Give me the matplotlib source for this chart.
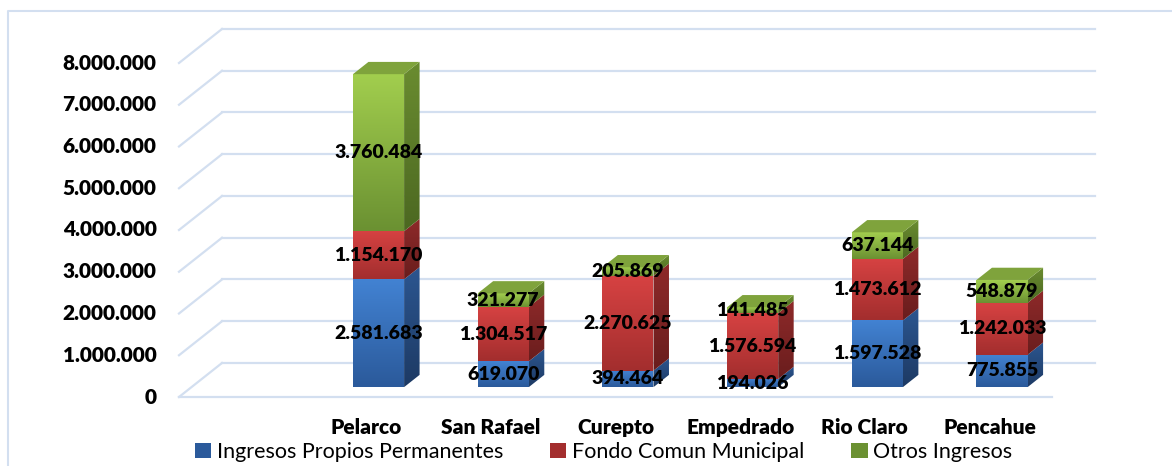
import matplotlib
matplotlib.use('Agg')
import matplotlib.pyplot as plt
import numpy as np
from matplotlib.patches import Polygon, Patch
from matplotlib.colors import LinearSegmentedColormap

plt.rcParams['font.family'] = ['Lato', 'DejaVu Sans']

# Datos (M$)
comunas = ['Pelarco', 'San Rafael', 'Curepto', 'Empedrado', 'Rio Claro', 'Pencahue']
propios = [2581683, 619070, 394464, 194026, 1597528, 775855]
fondo = [1154170, 1304517, 2270625, 1576594, 1473612, 1242033]
otros = [3760484, 321277, 205869, 141485, 637144, 548879]
series = ['Ingresos Propios Permanentes', 'Fondo Comun Municipal', 'Otros Ingresos']
yticks = [0, 1000000, 2000000, 3000000, 4000000, 5000000, 6000000, 7000000, 8000000]

# colores: (frente arriba, frente abajo, lado arriba, lado abajo)
colores = [('#4282d2', '#2b5a9b', '#2c5690', '#1d3a64'),
           ('#d64242', '#a32e2e', '#8e2a2a', '#6a1d1d'),
           ('#a2ce4e', '#6b9132', '#6a8c30', '#4c6821')]
techo = ['#3a6fb5', '#b83838', '#7fa33c']

# "profundidad" del grafico 3D en unidades de datos
dx, dy = 0.345, 815000
d0, d1 = 0.29, 0.65
ancho = 0.41
grid_col = '#d3dff0'
peso = 'heavy'

fig = plt.figure(figsize=(11.72, 4.66), dpi=100)
ax = fig.add_axes([0, 0, 1, 1])
ax.axis('off')


def fmt(v):
    return f'{v:,}'.replace(',', '.')


def cara(pts, c1, c2, z):
    pts = np.array(pts)
    poly = Polygon(pts, closed=True, facecolor='none', edgecolor='none')
    ax.add_patch(poly)
    cmap = LinearSegmentedColormap.from_list('g', [c2, c1])
    grad = np.linspace(0, 1, 64).reshape(-1, 1)
    im = ax.imshow(grad, cmap=cmap, origin='lower', aspect='auto', zorder=z,
                   extent=[pts[:, 0].min(), pts[:, 0].max(), pts[:, 1].min(), pts[:, 1].max()],
                   interpolation='bilinear')
    im.set_clip_path(poly)


# paredes y rejilla
for v in yticks:
    ax.plot([0, dx], [v, v + dy], color=grid_col, lw=1.6, zorder=1)
    ax.plot([dx, 7 + dx], [v + dy, v + dy], color=grid_col, lw=1.6, zorder=1)
    ax.text(-0.18, v, fmt(v), ha='right', va='center', fontsize=15, fontweight=peso, zorder=5)
ax.plot([0, 7], [0, 0], color=grid_col, lw=1.6, zorder=1)

# barras
datos = [propios, fondo, otros]
for i, nombre in enumerate(comunas):
    c = i + 1.5
    x0 = c - ancho / 2 + dx * d0
    x1 = c + ancho / 2 + dx * d0
    ex, ey = dx * (d1 - d0), dy * (d1 - d0)
    base = dy * d0
    for k in range(3):
        val = datos[k][i]
        y0 = base
        y1 = base + val
        c1, c2, s1, s2 = colores[k]
        cara([(x0, y0), (x1, y0), (x1, y1), (x0, y1)], c1, c2, 3)
        cara([(x1, y0), (x1 + ex, y0 + ey), (x1 + ex, y1 + ey), (x1, y1)], s1, s2, 3)
        ax.text((x0 + x1) / 2, (y0 + y1) / 2, fmt(val), ha='center', va='center',
                fontsize=14, fontweight=peso, zorder=6)
        base = y1
    ax.add_patch(Polygon([(x0, base), (x1, base), (x1 + ex, base + ey), (x0 + ex, base + ey)],
                         closed=True, facecolor=techo[2], edgecolor='none', zorder=3))
    ax.text(c, -740000, nombre, ha='center', va='center', fontsize=15, fontweight=peso)

# borde del area del grafico
ax.plot([8 / 1172, 8 / 1172, 1], [0, 1 - 11 / 466, 1 - 11 / 466], color='#d3dff0', lw=1.5,
        transform=ax.transAxes, zorder=0)

ax.set_xlim(-179 / 124.7, (1172 - 179) / 124.7)
ax.set_ylim((397 - 466) / 41.75e-6, 397 / 41.75e-6)

handles = [Patch(facecolor=colores[k][1], edgecolor='none') for k in range(3)]
fig.legend(handles, series, loc='center', bbox_to_anchor=(0.515, 0.03), ncol=3, frameon=False,
           fontsize=15.5, handlelength=0.75, handleheight=0.75, handletextpad=0.25,
           columnspacing=2.2, borderpad=0)

fig.savefig('out.png', dpi=100)
